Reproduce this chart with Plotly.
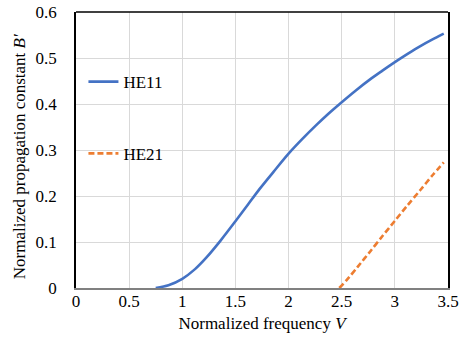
import plotly.graph_objects as go

# HE11 mode
he11_v = [0.75, 0.87, 1.00, 1.12, 1.23, 1.36, 1.50, 1.62, 1.73, 1.86, 2.00, 2.13,
          2.26, 2.38, 2.50, 2.63, 2.77, 2.88, 3.00, 3.12, 3.24, 3.35, 3.46]
he11_b = [0.000, 0.006, 0.020, 0.041, 0.067, 0.103, 0.145, 0.182, 0.216, 0.253, 0.292, 0.324,
          0.354, 0.380, 0.404, 0.429, 0.454, 0.472, 0.491, 0.509, 0.526, 0.540, 0.553]

# HE21 mode
he21_v = [2.477, 2.55, 2.65, 2.77, 2.88, 3.00, 3.12, 3.24, 3.35, 3.46]
he21_b = [0.000, 0.018, 0.046, 0.080, 0.112, 0.146, 0.180, 0.213, 0.244, 0.273]

x_ticks = [0, 0.5, 1, 1.5, 2, 2.5, 3, 3.5]
y_ticks = [0, 0.1, 0.2, 0.3, 0.4, 0.5, 0.6]

x_title = "Normalized frequency <i>V</i>"
y_title = "Normalized propagation constant <i>B′</i>"

FONT = "Liberation Serif"

fig = go.Figure()
fig.add_trace(go.Scatter(x=he11_v, y=he11_b, mode="lines", name="HE11",
                         line=dict(color="#4472C4", width=2.6, shape="spline", smoothing=0.8),
                         legend="legend", showlegend=True))
fig.add_trace(go.Scatter(x=he21_v, y=he21_b, mode="lines", name="HE21",
                         line=dict(color="#ED7D31", width=2.6, dash="6px,3px", shape="spline", smoothing=0.8),
                         legend="legend2", showlegend=True))

fig.update_layout(
    width=459, height=345,
    showlegend=True,
    margin=dict(l=76, r=11, t=12, b=57),
    paper_bgcolor="white", plot_bgcolor="white",
    font=dict(family=FONT, size=17, color="#000000"),
    legend=dict(x=0.02, y=0.746, xanchor="left", yanchor="middle",
                bgcolor="rgba(0,0,0,0)", font=dict(family=FONT, size=17)),
    legend2=dict(x=0.02, y=0.486, xanchor="left", yanchor="middle",
                 bgcolor="rgba(0,0,0,0)", font=dict(family=FONT, size=17)),
    xaxis=dict(range=[0, 3.5], tickvals=x_ticks, ticktext=[f"{v:g}" for v in x_ticks],
               showgrid=True, gridcolor="#D9D9D9", gridwidth=1,
               showline=True, linecolor="#808080", linewidth=2, mirror=False,
               zeroline=False, ticks="", ticklabelstandoff=-3, automargin=False,
               tickfont=dict(family=FONT, size=17),
               title=dict(text=x_title, standoff=7,
                          font=dict(family=FONT, size=17))),
    yaxis=dict(range=[0, 0.6], tickvals=y_ticks, ticktext=[f"{v:g}" for v in y_ticks],
               showgrid=True, gridcolor="#D9D9D9", gridwidth=1,
               showline=True, linecolor="#000000", linewidth=1.5, mirror=True,
               zeroline=False, ticks="", ticklabelstandoff=14, automargin=False,
               tickfont=dict(family=FONT, size=17)),
    annotations=[dict(text=y_title, textangle=-90, xref="paper", yref="paper",
                      x=-0.153, y=0.474, xanchor="center", yanchor="middle",
                      showarrow=False, font=dict(family=FONT, size=17, color="#000000"))],
    shapes=[dict(type="line", xref="paper", yref="paper", x0=0, x1=1, y0=1, y1=1,
                 line=dict(color="#000000", width=1.5))],
)

fig.write_html("out.html", config={"displayModeBar": False},
               post_script="document.body.style.margin='0';")
